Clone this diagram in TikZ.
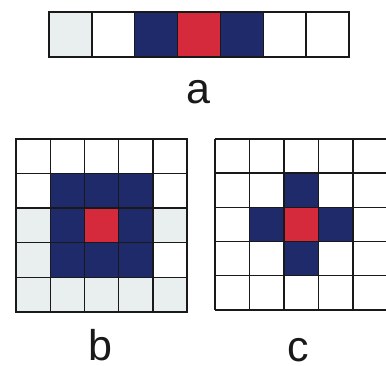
\documentclass[tikz,border=0pt]{standalone}
\usepackage{fontspec}
\setmainfont{Liberation Sans}
\definecolor{navy}{HTML}{1F2A6B}
\definecolor{cred}{HTML}{D42A3C}
\definecolor{lgray}{HTML}{E9EFEE}
\tikzset{
  gridline/.style={line width=1.4pt, draw=black!90},
  lbl/.style={font=\fontsize{43}{43}\selectfont, inner sep=0pt, text=black!90}
}
\begin{document}
\begin{tikzpicture}[x=1pt,y=-1pt]
\useasboundingbox (0,0) rectangle (386,366);
% ---------- a ----------
\def\aw{42.857}
\fill[lgray] (49,12) rectangle ++(\aw,45);
\fill[navy] ({49+2*\aw},12) rectangle ++(\aw,45);
\fill[cred] ({49+3*\aw},12) rectangle ++(\aw,45);
\fill[navy] ({49+4*\aw},12) rectangle ++(\aw,45);
\draw[gridline] (49,12) rectangle (349,57);
\foreach \i in {1,...,6} \draw[gridline] ({49+\i*\aw},12) -- ({49+\i*\aw},57);
\node[lbl] (la) at (198,92.5) {a};
% ---------- b ----------
\def\bw{34.2}
\def\bh{34.6}
% light gray cells
\foreach \c/\r in {0/2,4/2,0/3,0/4,1/4,2/4,3/4,4/4}
  \fill[lgray] ({16+\c*\bw},{139+\r*\bh}) rectangle ++(\bw,\bh);
\fill[navy] ({16+\bw},{139+\bh}) rectangle ++({3*\bw},{3*\bh});
\fill[cred] ({16+2*\bw},{139+2*\bh}) rectangle ++(\bw,\bh);
\draw[gridline] (16,139) rectangle (187,312);
\foreach \i in {1,...,4} {
  \draw[gridline] ({16+\i*\bw},139) -- ({16+\i*\bw},312);
  \draw[gridline] (16,{139+\i*\bh}) -- (187,{139+\i*\bh});
}
\node[lbl] (lb) at (100,345.5) {b};
% ---------- c ----------
\def\cw{34.5}
\def\ch{34.2}
\fill[navy] ({215+2*\cw},{139+\ch}) rectangle ++(\cw,{3*\ch});
\fill[navy] ({215+\cw},{139+2*\ch}) rectangle ++({3*\cw},\ch);
\fill[cred] ({215+2*\cw},{139+2*\ch}) rectangle ++(\cw,\ch);
\foreach \i in {0,...,4}
  \draw[gridline] ({215+\i*\cw},139) -- ({215+\i*\cw},310);
\foreach \j in {0,...,5}
  \draw[gridline] (215,{139+\j*\ch}) -- (388,{139+\j*\ch});
\node[lbl] (lc) at (298,350) {c};
\end{tikzpicture}
\end{document}
